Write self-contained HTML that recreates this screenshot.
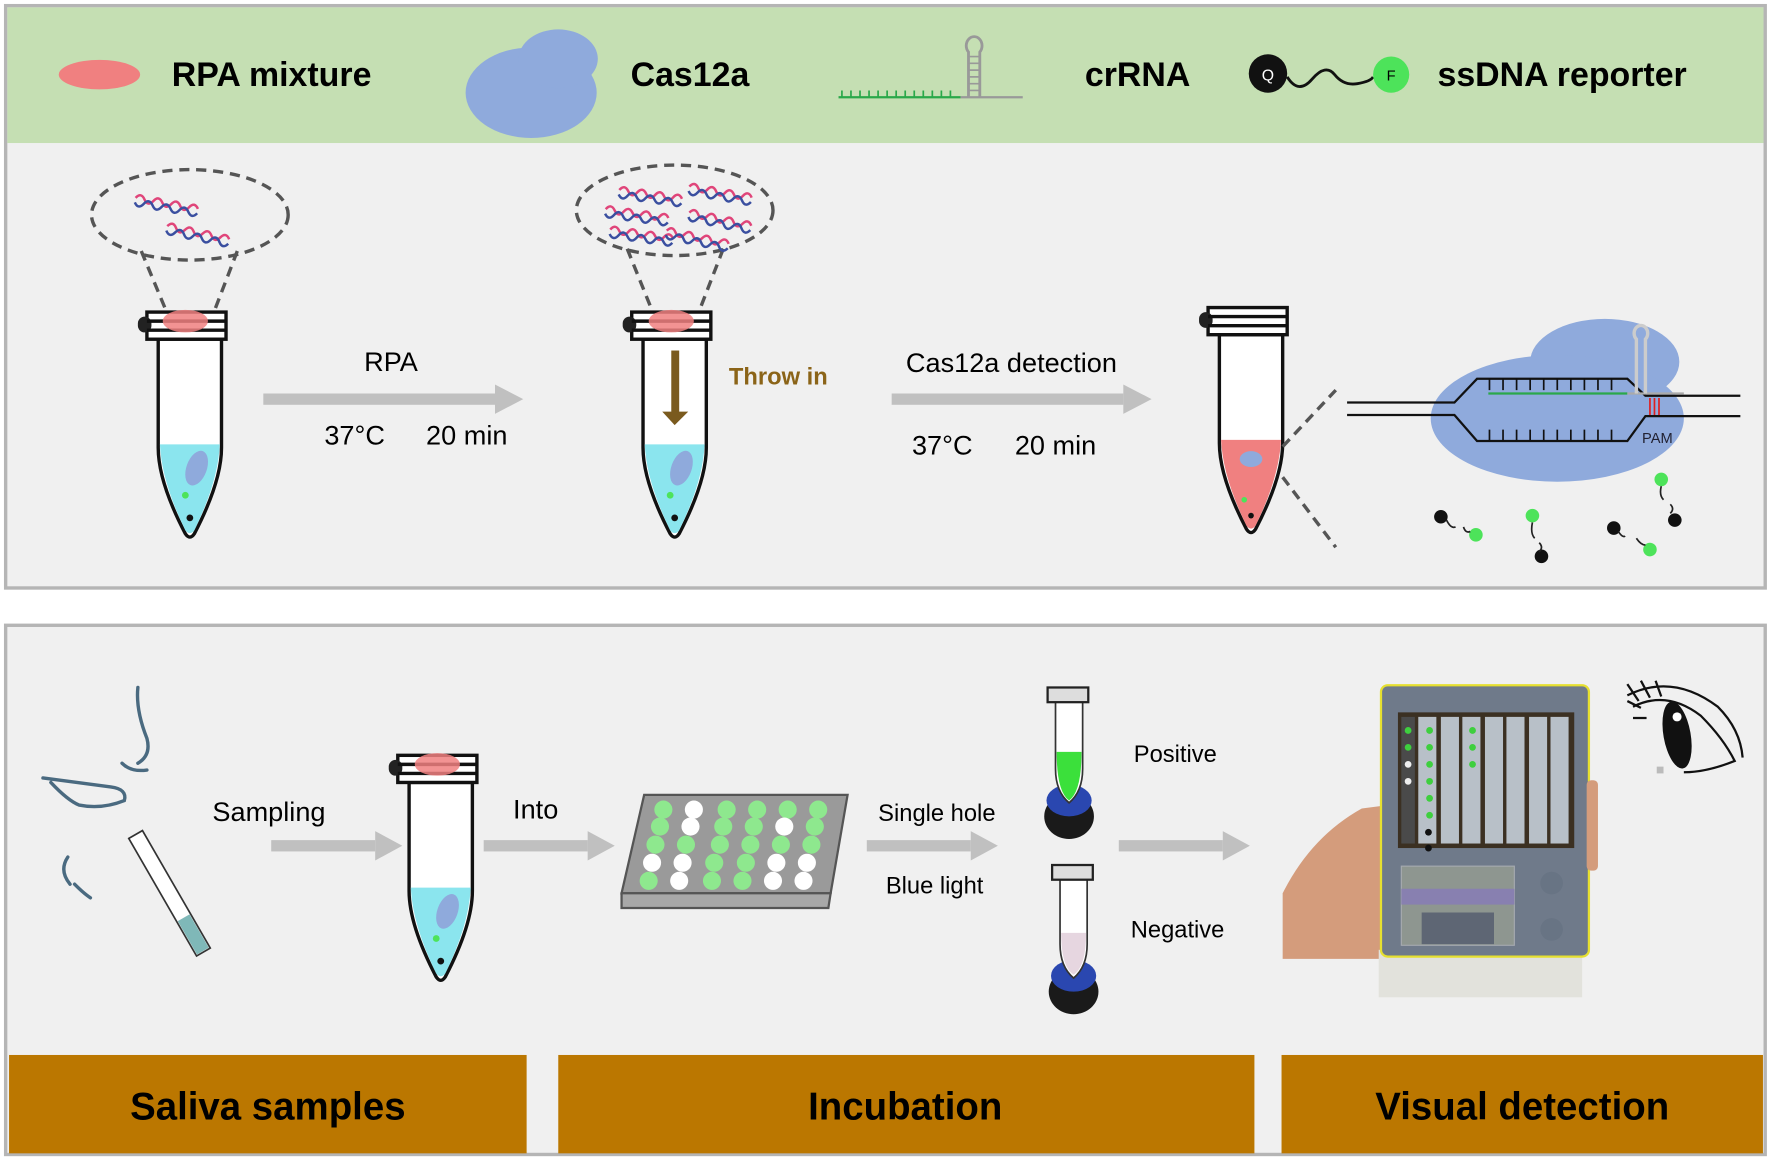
<!DOCTYPE html>
<html><head><meta charset="utf-8"><style>
html,body{margin:0;padding:0;background:#fff;width:1772px;height:1159px;overflow:hidden}
svg{display:block}
text{font-family:"Liberation Sans",Arial,sans-serif}
</style></head><body>
<svg width="1772" height="1159" viewBox="0 0 1568 1025" preserveAspectRatio="none" xmlns="http://www.w3.org/2000/svg">
<defs>
<g id="tube">
  <path d="M-28,24 L-28,120 Q-28,150 -4,196 Q0,202 4,196 Q28,150 28,120 L28,24 Z" fill="#fff" stroke="#111" stroke-width="3"/>
  <rect x="-38" y="0" width="70" height="24" fill="#fff" stroke="#111" stroke-width="3"/>
  <rect x="-46" y="4" width="12" height="14" rx="6" fill="#222"/>
  <line x1="-38" y1="8" x2="32" y2="8" stroke="#111" stroke-width="3"/>
  <line x1="-38" y1="16" x2="32" y2="16" stroke="#111" stroke-width="3"/>
</g>
<path id="liq" d="M-26.5,117 L26.5,117 Q25,150 4,193 Q0,198 -4,193 Q-25,150 -26.5,117Z"/>
<g id="dna">
  <path d="M0,0 q4,-6 8,0 t8,0 t8,0 t8,0 t8,0 t8,0 t8,0" fill="none" stroke="#e0457a" stroke-width="2.2"/>
  <path d="M0,4 q4,6 8,0 t8,0 t8,0 t8,0 t8,0 t8,0 t8,0" fill="none" stroke="#3a4fa0" stroke-width="2.2"/>
</g>
</defs>

<!-- TOP PANEL -->
<rect x="5" y="5" width="1557" height="515" fill="#f0f0f0" stroke="#b5b5b5" stroke-width="3"/>
<rect x="6.5" y="6.5" width="1554" height="120" fill="#c5dfb3"/>

<ellipse cx="88" cy="66" rx="36" ry="13" fill="#f08080"/>
<text x="152" y="76" font-size="30" font-weight="bold">RPA mixture</text>
<ellipse cx="470" cy="82" rx="58" ry="40" fill="#8faadc"/>
<ellipse cx="494" cy="52" rx="35" ry="26" fill="#8faadc"/>
<text x="558" y="76" font-size="30" font-weight="bold">Cas12a</text>
<line x1="742" y1="86" x2="850" y2="86" stroke="#2aa84a" stroke-width="2"/>
<path d="M745,86 v-6 M753,86 v-6 M761,86 v-6 M769,86 v-6 M777,86 v-6 M785,86 v-6 M793,86 v-6 M801,86 v-6 M809,86 v-6 M817,86 v-6 M825,86 v-6 M833,86 v-6 M841,86 v-6" stroke="#2aa84a" stroke-width="1.5"/>
<line x1="850" y1="86" x2="905" y2="86" stroke="#999" stroke-width="2"/>
<path d="M857,86 V46 a7,8 0 1 1 10,0 V86" fill="none" stroke="#999" stroke-width="2.5"/>
<path d="M857,50 h10 M857,56 h10 M857,62 h10 M857,68 h10 M857,74 h10 M857,80 h10" stroke="#999" stroke-width="1.5"/>
<text x="960" y="76" font-size="30" font-weight="bold">crRNA</text>
<circle cx="1122" cy="65" r="17" fill="#111"/>
<text x="1122" y="71" font-size="14" fill="#fff" text-anchor="middle">Q</text>
<path d="M1139,68 q10,16 22,2 t20,-4 t20,8 t14,-6" fill="none" stroke="#111" stroke-width="2.5"/>
<circle cx="1231" cy="66" r="16" fill="#4de35a"/>
<text x="1231" y="71" font-size="13" text-anchor="middle">F</text>
<text x="1272" y="76" font-size="30" font-weight="bold">ssDNA reporter</text>

<!-- tube 1 -->
<ellipse cx="168" cy="190" rx="87" ry="40" fill="none" stroke="#555" stroke-width="3" stroke-dasharray="9,6"/>
<line x1="125" y1="222" x2="150" y2="282" stroke="#555" stroke-width="3" stroke-dasharray="9,6"/>
<line x1="210" y1="222" x2="187" y2="282" stroke="#555" stroke-width="3" stroke-dasharray="9,6"/>
<use href="#dna" transform="translate(120,175) rotate(10)"/>
<use href="#dna" transform="translate(148,200) rotate(12)"/>
<g transform="translate(168,276)">
  <use href="#tube"/>
  <use href="#liq" fill="#8be5ee"/>
  <ellipse cx="-4" cy="8" rx="20" ry="10" fill="#f08080" opacity=".85"/>
  <ellipse cx="6" cy="138" rx="9" ry="16" fill="#8faadc" transform="rotate(20 6 138)"/>
  <circle cx="-4" cy="162" r="3" fill="#4de35a"/><circle cx="0" cy="182" r="3" fill="#111"/>
</g>
<rect x="233" y="348" width="205" height="10" fill="#c0c0c0"/>
<path d="M438,340 L463,353 L438,366Z" fill="#c0c0c0"/>
<text x="346" y="328" font-size="24" text-anchor="middle">RPA</text>
<text x="287" y="393" font-size="24">37°C</text><text x="377" y="393" font-size="24">20 min</text>

<!-- tube 2 -->
<ellipse cx="597" cy="186" rx="87" ry="40" fill="none" stroke="#555" stroke-width="3" stroke-dasharray="9,6"/>
<line x1="555" y1="220" x2="580" y2="282" stroke="#555" stroke-width="3" stroke-dasharray="9,6"/>
<line x1="640" y1="220" x2="616" y2="282" stroke="#555" stroke-width="3" stroke-dasharray="9,6"/>
<use href="#dna" transform="translate(548,168) rotate(8)"/>
<use href="#dna" transform="translate(610,165) rotate(10)"/>
<use href="#dna" transform="translate(536,185) rotate(8)"/>
<use href="#dna" transform="translate(610,188) rotate(12)"/>
<use href="#dna" transform="translate(540,203) rotate(8)"/>
<use href="#dna" transform="translate(590,204) rotate(12)"/>
<g transform="translate(597,276)">
  <use href="#tube"/>
  <use href="#liq" fill="#8be5ee"/>
  <ellipse cx="-3" cy="8" rx="20" ry="10" fill="#f08080" opacity=".85"/>
  <ellipse cx="6" cy="138" rx="9" ry="16" fill="#8faadc" transform="rotate(20 6 138)"/>
  <circle cx="-4" cy="162" r="3" fill="#4de35a"/><circle cx="0" cy="182" r="3" fill="#111"/>
  <rect x="-3" y="34" width="7" height="58" fill="#7a5a1e"/>
  <path d="M-11,88 L12,88 L0,100Z" fill="#7a5a1e"/>
</g>
<text x="645" y="340" font-size="21" font-weight="bold" fill="#8b6418">Throw in</text>
<rect x="789" y="348" width="205" height="10" fill="#c0c0c0"/>
<path d="M994,340 L1019,353 L994,366Z" fill="#c0c0c0"/>
<text x="895" y="329" font-size="24" text-anchor="middle">Cas12a detection</text>
<text x="807" y="402" font-size="24">37°C</text><text x="898" y="402" font-size="24">20 min</text>

<!-- tube 3 -->
<g transform="translate(1107,272)">
  <use href="#tube"/>
  <use href="#liq" fill="#f08080"/>
  <ellipse cx="0" cy="134" rx="10" ry="7" fill="#8faadc"/>
  <circle cx="-6" cy="170" r="2.5" fill="#4de35a"/><circle cx="0" cy="184" r="2.5" fill="#111"/>
</g>
<line x1="1135" y1="395" x2="1182" y2="345" stroke="#555" stroke-width="3" stroke-dasharray="9,6"/>
<line x1="1135" y1="422" x2="1182" y2="484" stroke="#555" stroke-width="3" stroke-dasharray="9,6"/>

<!-- complex -->
<ellipse cx="1420" cy="320" rx="66" ry="38" fill="#8faadc"/>
<ellipse cx="1378" cy="370" rx="112" ry="56" fill="#8faadc"/>
<path d="M1192,356 H1287 L1307,335 H1440 L1456,350 H1540" fill="none" stroke="#111" stroke-width="2"/>
<path d="M1192,367 H1287 L1307,390 H1440 L1456,368 H1540" fill="none" stroke="#111" stroke-width="2"/>
<line x1="1317" y1="348" x2="1440" y2="348" stroke="#2aa84a" stroke-width="2"/>
<line x1="1440" y1="348" x2="1490" y2="348" stroke="#aaa" stroke-width="2"/>
<path d="M1318,335v10M1330,335v10M1342,335v10M1354,335v10M1366,335v10M1378,335v10M1390,335v10M1402,335v10M1414,335v10M1426,335v10" stroke="#111" stroke-width="1.5"/>
<path d="M1318,390v-10M1330,390v-10M1342,390v-10M1354,390v-10M1366,390v-10M1378,390v-10M1390,390v-10M1402,390v-10M1414,390v-10M1426,390v-10" stroke="#111" stroke-width="1.5"/>
<path d="M1460,352v15M1464,352v15M1468,352v15" stroke="#e02020" stroke-width="1.5"/>
<path d="M1448,348 V300 a6,7 0 1 1 8,0 V348" fill="none" stroke="#ccc" stroke-width="3"/>
<text x="1453" y="392" font-size="13" font-family="Liberation Serif,serif" fill="#223">PAM</text>
<g fill="#111"><circle cx="1275" cy="457" r="6"/><circle cx="1364" cy="492" r="6"/><circle cx="1428" cy="467" r="6"/><circle cx="1482" cy="460" r="6"/></g>
<g fill="#4de35a"><circle cx="1306" cy="473" r="6"/><circle cx="1356" cy="456" r="6"/><circle cx="1460" cy="486" r="6"/><circle cx="1470" cy="424" r="6"/></g>
<g fill="none" stroke="#222" stroke-width="1.5"><path d="M1280,460 q4,8 8,6 M1295,466 q2,6 6,4 M1356,462 q-2,10 2,14 M1362,480 q4,4 0,8 M1432,470 q4,6 6,4 M1448,476 q4,6 8,6 M1470,430 q-2,8 2,12 M1478,446 q4,4 0,8"/></g>

<!-- BOTTOM PANEL -->
<rect x="5" y="553" width="1557" height="468" fill="#f0f0f0" stroke="#b5b5b5" stroke-width="3"/>
<rect x="8" y="933" width="458" height="87" fill="#bb7700"/>
<rect x="494" y="933" width="616" height="87" fill="#bb7700"/>
<rect x="1134" y="933" width="426" height="87" fill="#bb7700"/>
<text x="237" y="990" font-size="34" font-weight="bold" text-anchor="middle">Saliva samples</text>
<text x="801" y="990" font-size="34" font-weight="bold" text-anchor="middle">Incubation</text>
<text x="1347" y="990" font-size="34" font-weight="bold" text-anchor="middle">Visual detection</text>

<!-- face -->
<g fill="none" stroke="#4a6a80" stroke-width="3" stroke-linecap="round">
<path d="M122,608 q-2,20 8,45 q4,15 -8,22 M108,675 q8,8 22,6"/>
<path d="M38,688 q30,4 60,8 q15,2 12,12 q-20,8 -40,4 q-10,-4 -25,-20"/>
<path d="M60,758 q-8,12 2,24 M66,782 q8,8 14,12"/>
</g>
<g transform="rotate(-30 150 790)"><rect x="143" y="730" width="14" height="120" fill="#fff" stroke="#333" stroke-width="1.5"/><rect x="144" y="815" width="12" height="34" fill="#7fb8b8"/></g>
<text x="238" y="726" font-size="24" text-anchor="middle">Sampling</text>
<rect x="240" y="743" width="92" height="10" fill="#c0c0c0"/><path d="M332,735 L356,748 L332,761Z" fill="#c0c0c0"/>
<g transform="translate(390,668)">
  <use href="#tube"/>
  <use href="#liq" fill="#8be5ee"/>
  <ellipse cx="-3" cy="8" rx="20" ry="10" fill="#f08080" opacity=".85"/>
  <ellipse cx="6" cy="138" rx="9" ry="16" fill="#8faadc" transform="rotate(20 6 138)"/>
  <circle cx="-4" cy="162" r="3" fill="#4de35a"/><circle cx="0" cy="182" r="3" fill="#111"/>
</g>
<text x="474" y="724" font-size="24" text-anchor="middle">Into</text>
<rect x="428" y="743" width="92" height="10" fill="#c0c0c0"/><path d="M520,735 L544,748 L520,761Z" fill="#c0c0c0"/>
<!-- plate -->
<path d="M570,703 L750,703 L735,790 L550,790Z" fill="#9a9a9a" stroke="#555" stroke-width="2"/>
<path d="M550,790 L735,790 L733,803 L550,803Z" fill="#a8a8a8" stroke="#555" stroke-width="2"/>
<g>
<g fill="#8ee88e"><circle cx="587" cy="716" r="8"/><circle cx="643" cy="716" r="8"/><circle cx="670" cy="716" r="8"/><circle cx="697" cy="716" r="8"/><circle cx="724" cy="716" r="8"/>
<circle cx="584" cy="731" r="8"/><circle cx="640" cy="731" r="8"/><circle cx="667" cy="731" r="8"/><circle cx="721" cy="731" r="8"/>
<circle cx="580" cy="747" r="8"/><circle cx="607" cy="747" r="8"/><circle cx="637" cy="747" r="8"/><circle cx="664" cy="747" r="8"/><circle cx="691" cy="747" r="8"/><circle cx="718" cy="747" r="8"/>
<circle cx="632" cy="763" r="8"/><circle cx="660" cy="763" r="8"/>
<circle cx="574" cy="779" r="8"/><circle cx="630" cy="779" r="8"/><circle cx="657" cy="779" r="8"/></g>
<g fill="#fff"><circle cx="614" cy="716" r="8"/><circle cx="611" cy="731" r="8"/><circle cx="694" cy="731" r="8"/>
<circle cx="577" cy="763" r="8"/><circle cx="604" cy="763" r="8"/><circle cx="687" cy="763" r="8"/><circle cx="714" cy="763" r="8"/>
<circle cx="601" cy="779" r="8"/><circle cx="684" cy="779" r="8"/><circle cx="711" cy="779" r="8"/></g>
</g>
<text x="829" y="726" font-size="21" text-anchor="middle">Single hole</text>
<text x="827" y="790" font-size="21" text-anchor="middle">Blue light</text>
<rect x="767" y="743" width="92" height="10" fill="#c0c0c0"/><path d="M859,735 L883,748 L859,761Z" fill="#c0c0c0"/>
<!-- small tubes with light -->
<g>
<ellipse cx="946" cy="722" rx="22" ry="20" fill="#1a1a1a"/>
<ellipse cx="946" cy="708" rx="20" ry="14" fill="#2a47b0"/>
<path d="M934,620 V680 Q934,700 946,710 Q958,700 958,680 V620Z" fill="#fff" stroke="#333" stroke-width="1.5"/>
<path d="M935,665 L957,665 Q957,700 946,708 Q935,700 935,665Z" fill="#3be03b"/>
<rect x="927" y="608" width="36" height="13" fill="#ddd" stroke="#222" stroke-width="2"/>
<ellipse cx="950" cy="877" rx="22" ry="20" fill="#1a1a1a"/>
<ellipse cx="950" cy="863" rx="20" ry="14" fill="#2a47b0"/>
<path d="M938,777 V835 Q938,855 950,865 Q962,855 962,835 V777Z" fill="#fff" stroke="#333" stroke-width="1.5"/>
<path d="M939,825 L961,825 Q961,855 950,862 Q939,855 939,825Z" fill="#e6d6e0"/>
<rect x="931" y="765" width="36" height="13" fill="#ddd" stroke="#222" stroke-width="2"/>
</g>
<text x="1040" y="674" font-size="21" text-anchor="middle">Positive</text>
<text x="1042" y="829" font-size="21" text-anchor="middle">Negative</text>
<rect x="990" y="743" width="92" height="10" fill="#c0c0c0"/><path d="M1082,735 L1106,748 L1082,761Z" fill="#c0c0c0"/>
<!-- device -->
<path d="M1135,848 L1135,790 Q1160,740 1205,715 L1228,712 L1228,848Z" fill="#d49c7c"/>
<rect x="1220" y="840" width="180" height="42" fill="#e2e2dc"/>
<rect x="1222" y="606" width="184" height="240" rx="6" fill="#6f7a8a" stroke="#e6e030" stroke-width="2"/>
<rect x="1404" y="690" width="10" height="80" rx="4" fill="#d49c7c"/>
<rect x="1237" y="630" width="156" height="120" fill="#3b3022"/>
<g fill="#b8c0c8">
<rect x="1240" y="634" width="12" height="112" fill="#4a4a4a"/>
<rect x="1255" y="634" width="16" height="112"/><rect x="1275" y="634" width="16" height="112"/><rect x="1294" y="634" width="16" height="112"/>
<rect x="1314" y="634" width="16" height="112"/><rect x="1333" y="634" width="16" height="112"/><rect x="1353" y="634" width="16" height="112"/><rect x="1372" y="634" width="16" height="112"/>
</g>
<g fill="#3ecf3e"><circle cx="1246" cy="646" r="3"/><circle cx="1246" cy="661" r="3"/><circle cx="1265" cy="646" r="3"/><circle cx="1265" cy="661" r="3"/><circle cx="1265" cy="676" r="3"/><circle cx="1265" cy="691" r="3"/><circle cx="1265" cy="706" r="3"/><circle cx="1265" cy="721" r="3"/><circle cx="1303" cy="646" r="3"/><circle cx="1303" cy="661" r="3"/><circle cx="1303" cy="676" r="3"/></g>
<g fill="#eee"><circle cx="1246" cy="676" r="3"/><circle cx="1246" cy="691" r="3"/></g>
<g fill="#111"><circle cx="1264" cy="736" r="3"/><circle cx="1264" cy="750" r="3"/></g>
<rect x="1240" y="766" width="100" height="70" fill="#8e9690" stroke="#a6aab0"/>
<rect x="1240" y="786" width="100" height="14" fill="#8880b0"/>
<rect x="1258" y="807" width="64" height="28" fill="#5e6674"/>
<circle cx="1373" cy="781" r="10" fill="#687484"/><circle cx="1373" cy="822" r="10" fill="#687484"/>
<!-- eye -->
<g fill="none" stroke="#111" stroke-width="2">
<path d="M1440,615 q40,-20 80,10 q20,20 22,45"/>
<path d="M1445,625 q30,-15 60,8 q20,20 30,40 q-25,10 -45,10"/>
<path d="M1440,605 l10,15 M1452,602 l8,15 M1465,602 l5,14 M1440,620 l12,6 M1445,635 l12,0"/>
</g>
<ellipse cx="1484" cy="650" rx="12" ry="30" fill="#111" transform="rotate(-10 1484 650)"/>
<circle cx="1484" cy="634" r="4" fill="#fff"/>
<rect x="1466" y="678" width="6" height="6" fill="#bbb"/>
</svg>
</body></html>
